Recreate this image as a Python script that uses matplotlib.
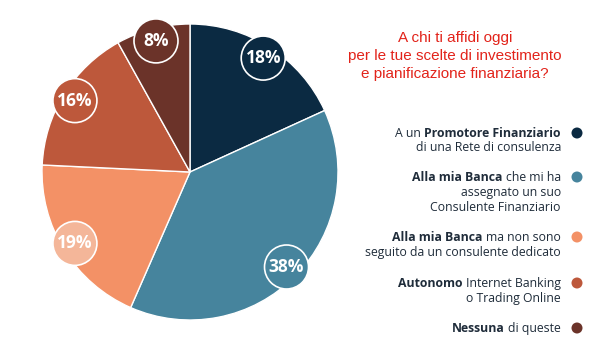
import matplotlib
matplotlib.use("Agg")
import matplotlib.pyplot as plt
from matplotlib.patches import Circle
import numpy as np

# ---- data ----
labels = [
    "A un Promotore Finanziario di una Rete di consulenza",
    "Alla mia Banca che mi ha assegnato un suo Consulente Finanziario",
    "Alla mia Banca ma non sono seguito da un consulente dedicato",
    "Autonomo Internet Banking o Trading Online",
    "Nessuna di queste",
]
values = [18, 38, 19, 16, 8]
pct_labels = ["18%", "38%", "19%", "16%", "8%"]
title_lines = [
    "A chi ti affidi oggi",
    "per le tue scelte di investimento",
    "e pianificazione finanziaria?",
]
# legend lines: list of entries, each a list of lines, each line a list of (text, bold)
legend_lines = [
    [[("A un", False), ("Promotore Finanziario", True)],
     [("di una Rete di consulenza", False)]],
    [[("Alla mia Banca", True), ("che mi ha", False)],
     [("assegnato un suo", False)],
     [("Consulente Finanziario", False)]],
    [[("Alla mia Banca", True), ("ma non sono", False)],
     [("seguito da un consulente dedicato", False)]],
    [[("Autonomo", True), ("Internet Banking", False)],
     [("o Trading Online", False)]],
    [[("Nessuna", True), ("di queste", False)]],
]

colors = ["#0b2a42", "#46849d", "#f39166", "#bd583b", "#6b3329"]
badge_colors = ["#0b2a42", "#46849d", "#f4b699", "#bd583b", "#6b3329"]
text_color = "#1f2c3a"
title_color = "#e2231a"

W, H = 600, 360
fig = plt.figure(figsize=(6, 3.6), dpi=100)
ax = fig.add_axes([0, 0, 1, 1])

def Y(y_img):
    return H - y_img

# ---- pie ----
cx, cy, R = 190, Y(172), 148
wedges, _ = ax.pie(values, colors=colors, startangle=90, counterclock=False,
                   center=(cx, cy), radius=R, frame=True,
                   wedgeprops=dict(edgecolor="white", linewidth=1.0))
ax.set_xlim(0, W)
ax.set_ylim(0, H)
ax.set_aspect("auto")
ax.axis("off")

for w, lab, bc in zip(wedges, pct_labels, badge_colors):
    mid = np.deg2rad((w.theta1 + w.theta2) / 2)
    bx = cx + 0.915 * R * np.cos(mid)
    by = cy + 0.915 * R * np.sin(mid)
    ax.add_patch(Circle((bx, by), 22, facecolor=bc, edgecolor="white",
                        linewidth=1.2, zorder=5))
    ax.text(bx, by, lab, ha="center", va="center", color="white",
            fontsize=12.5, fontweight="bold", family="Open Sans", zorder=6)

# ---- title ----
for i, line in enumerate(title_lines):
    ax.text(455, Y(42 + 18 * i), line, ha="center", va="baseline",
            color=title_color, fontsize=11, family="Liberation Sans")

# ---- legend ----
renderer = fig.canvas.get_renderer()
fs = 8.8
fam = "Open Sans"
tmp1 = ax.text(0, 0, "a a", fontsize=fs, family=fam)
tmp2 = ax.text(0, 0, "aa", fontsize=fs, family=fam)
space_w = tmp1.get_window_extent(renderer).width - tmp2.get_window_extent(renderer).width
tmp1.remove(); tmp2.remove()

entry_y = [[133, 147], [177, 192, 207], [237, 252], [283, 298], [328]]
x_right = 561
for ei, (entry, ys) in enumerate(zip(legend_lines, entry_y)):
    for li, (segs, yc) in enumerate(zip(entry, ys)):
        cur = x_right
        for s, bold in reversed(segs):
            t = ax.text(cur, Y(yc + 4), s, ha="right", va="baseline",
                        fontsize=fs, family=fam, color=text_color,
                        fontweight="bold" if bold else "normal")
            cur -= t.get_window_extent(renderer).width + space_w + 0.8
    ax.add_patch(Circle((577, Y(ys[0])), 5.5, facecolor=colors[ei],
                        edgecolor="none"))

fig.savefig("out.png", dpi=100)
